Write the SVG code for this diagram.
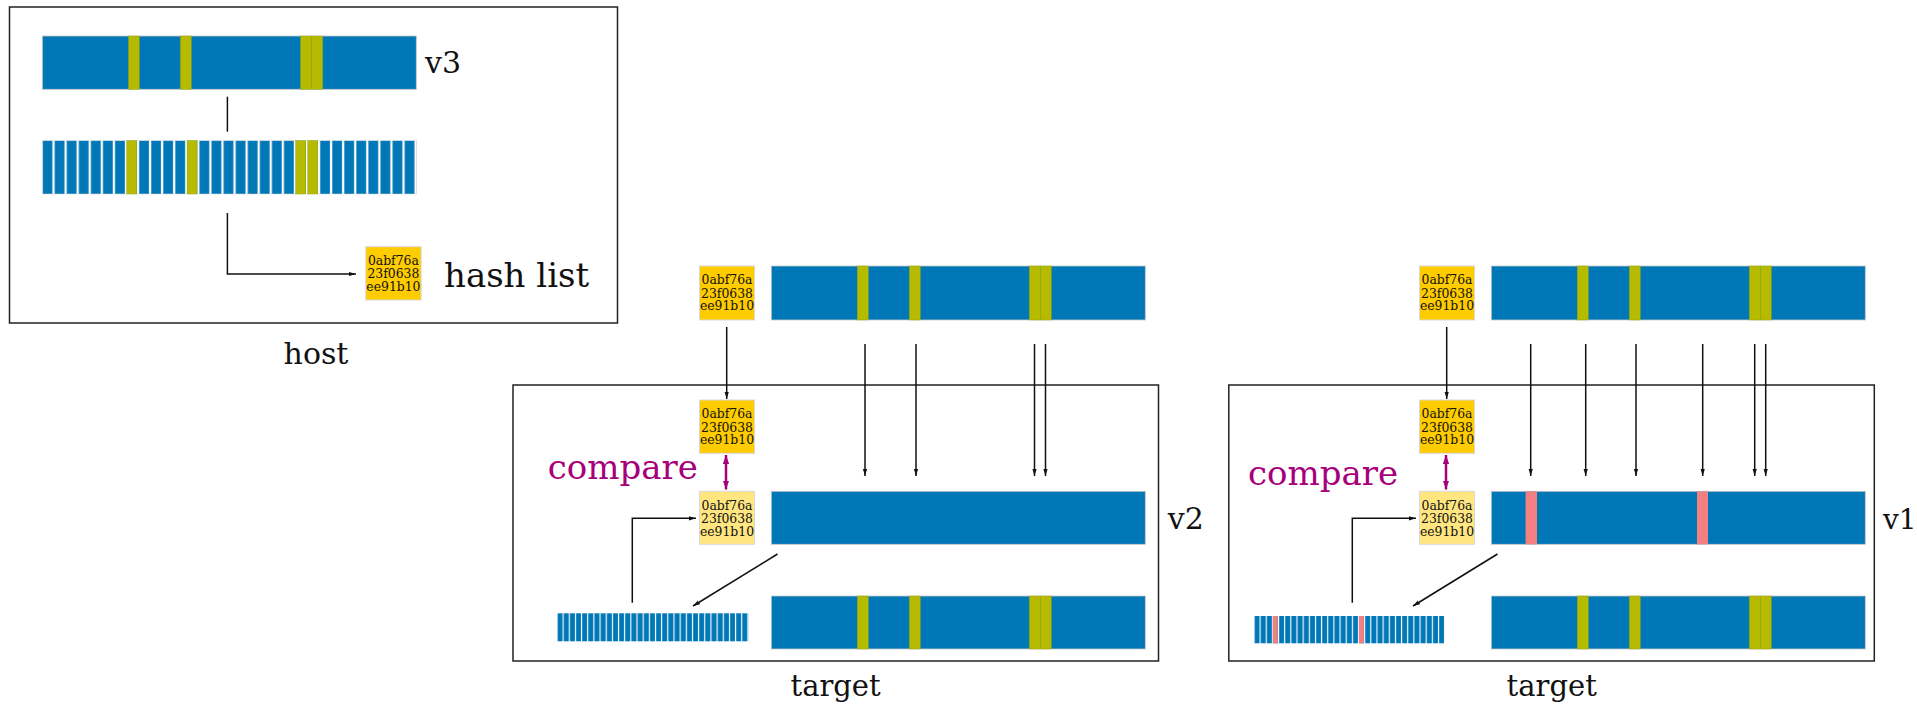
<svg xmlns="http://www.w3.org/2000/svg" width="1917" height="705" viewBox="0 0 1917 705">
<style>
.frame{fill:none;stroke:#222;stroke-width:1.5}
.bar{fill:#0077B6;stroke:#c8c8c8;stroke-width:0.8}
.yel{fill:#B6BA00;stroke:#9aa800;stroke-width:0.4}
.red{fill:#F38080}
.hash{fill:#FFCC00;stroke:#d8d8d8;stroke-width:1}
.hashp{fill:#FFE680;stroke:#d8d8d8;stroke-width:1}
.ht{font-family:"DejaVu Serif","Liberation Serif",serif;font-size:12.4px;fill:#111;text-anchor:middle}
.lbl{font-family:"DejaVu Serif","Liberation Serif",serif;fill:#111}
.cmp{font-family:"DejaVu Serif","Liberation Serif",serif;font-size:34px;fill:#A6007A}
.ln{fill:none;stroke:#111;stroke-width:1.5}
.ar{fill:none;stroke:#111;stroke-width:1.5;marker-end:url(#ah)}
.mg{fill:none;stroke:#A6007A;stroke-width:2.5;marker-start:url(#mh);marker-end:url(#mh)}
</style>
<defs>
<marker id="ah" viewBox="0 0 10 10" refX="10" refY="5" markerWidth="7" markerHeight="7" orient="auto" markerUnits="userSpaceOnUse"><path d="M0,2 L10,5 L0,8 z" fill="#111"/></marker>
<marker id="mh" viewBox="0 0 10 10" refX="10" refY="5" markerWidth="9" markerHeight="9" orient="auto-start-reverse" markerUnits="userSpaceOnUse"><path d="M0,1.5 L10,5 L0,8.5 z" fill="#A6007A"/></marker>
<pattern id="pBig" x="42.3" y="0" width="12.068" height="100" patternUnits="userSpaceOnUse"><rect x="0.3" y="0" width="9.8" height="100" fill="#0077B6"/></pattern>
<pattern id="pS1" x="557.3" y="0" width="6.161" height="100" patternUnits="userSpaceOnUse"><rect x="0.2" y="0" width="5" height="100" fill="#0077B6"/></pattern>
<pattern id="pS2" x="1254.3" y="0" width="6.152" height="100" patternUnits="userSpaceOnUse"><rect x="0.2" y="0" width="5" height="100" fill="#0077B6"/></pattern>
</defs>

<g id="host">
<rect class="frame" x="9.5" y="7" width="608" height="316"/>
<g id="host-v3-file">
<rect class="bar" x="42.3" y="36" width="374" height="53.3"/>
<rect class="yel" x="128.5" y="36" width="10.8" height="53.3"/>
<rect class="yel" x="180.3" y="36" width="11" height="53.3"/>
<rect class="yel" x="300.5" y="36" width="11.1" height="53.3"/>
<rect class="yel" x="311.6" y="36" width="11.1" height="53.3"/>
</g>
<g id="host-chunks">
<rect x="42.3" y="140.7" width="374.1" height="53.3" fill="url(#pBig)" stroke="#d8d8d8" stroke-width="0.5"/>
<rect class="yel" x="126.8" y="140.7" width="10" height="53.3"/>
<rect class="yel" x="187.1" y="140.7" width="10" height="53.3"/>
<rect class="yel" x="295.8" y="140.7" width="10" height="53.3"/>
<rect class="yel" x="307.8" y="140.7" width="10" height="53.3"/>
</g>
<g id="host-hash">
<rect class="hash" x="365.8" y="246.7" width="55.3" height="53.3"/>
<text class="ht" x="393.4" y="265"><tspan x="393.4">0abf76a</tspan><tspan x="393.4" dy="13.2">23f0638</tspan><tspan x="393.4" dy="12.6">ee91b10</tspan></text>
</g>
<text class="lbl" x="425" y="73" font-size="30">v3</text>
<text class="lbl" x="444" y="287" font-size="34">hash list</text>
<text class="lbl" x="316" y="364" font-size="30" text-anchor="middle">host</text>
</g>

<g id="panel-v2">
<rect class="frame" x="513" y="385" width="645.5" height="276"/>
<g id="p1-src-hash">
<rect class="hash" x="699.5" y="266" width="55" height="54"/>
<text class="ht" x="727" y="284.3"><tspan x="727">0abf76a</tspan><tspan x="727" dy="13.4">23f0638</tspan><tspan x="727" dy="12.6">ee91b10</tspan></text>
</g>
<g id="p1-src-file">
<rect class="bar" x="771.3" y="266" width="374" height="54"/>
<rect class="yel" x="857.3" y="266" width="11" height="54"/>
<rect class="yel" x="909.3" y="266" width="11" height="54"/>
<rect class="yel" x="1029.3" y="266" width="11" height="54"/>
<rect class="yel" x="1040.3" y="266" width="11" height="54"/>
</g>
<g id="p1-recv-hash">
<rect class="hash" x="699.5" y="400" width="55" height="53.3"/>
<text class="ht" x="727" y="418.3"><tspan x="727">0abf76a</tspan><tspan x="727" dy="13.4">23f0638</tspan><tspan x="727" dy="12.6">ee91b10</tspan></text>
</g>
<g id="p1-local-hash">
<rect class="hashp" x="699.5" y="491.3" width="55" height="53"/>
<text class="ht" x="727" y="509.6"><tspan x="727">0abf76a</tspan><tspan x="727" dy="13.4">23f0638</tspan><tspan x="727" dy="12.6">ee91b10</tspan></text>
</g>
<g id="p1-old-file">
<rect class="bar" x="771.3" y="491.3" width="374" height="53"/>
</g>
<g id="p1-chunks">
<rect x="557.3" y="613.3" width="191" height="28" fill="url(#pS1)"/>
</g>
<g id="p1-new-file">
<rect class="bar" x="771.3" y="596" width="374" height="53"/>
<rect class="yel" x="857.3" y="596" width="11" height="53"/>
<rect class="yel" x="909.3" y="596" width="11" height="53"/>
<rect class="yel" x="1029.3" y="596" width="11" height="53"/>
<rect class="yel" x="1040.3" y="596" width="11" height="53"/>
</g>
<text class="cmp" x="547.7" y="479">compare</text>
<text class="lbl" x="1167.7" y="529" font-size="30">v2</text>
<text class="lbl" x="835.6" y="696" font-size="29" text-anchor="middle">target</text>
</g>

<g id="panel-v1">
<rect class="frame" x="1228.8" y="385" width="645.5" height="276"/>
<g id="p2-src-hash">
<rect class="hash" x="1419.5" y="266" width="55" height="54"/>
<text class="ht" x="1447" y="284.3"><tspan x="1447">0abf76a</tspan><tspan x="1447" dy="13.4">23f0638</tspan><tspan x="1447" dy="12.6">ee91b10</tspan></text>
</g>
<g id="p2-src-file">
<rect class="bar" x="1491.3" y="266" width="374" height="54"/>
<rect class="yel" x="1577.3" y="266" width="11" height="54"/>
<rect class="yel" x="1629.3" y="266" width="11" height="54"/>
<rect class="yel" x="1749.3" y="266" width="11" height="54"/>
<rect class="yel" x="1760.3" y="266" width="11" height="54"/>
</g>
<g id="p2-recv-hash">
<rect class="hash" x="1419.5" y="400" width="55" height="53.3"/>
<text class="ht" x="1447" y="418.3"><tspan x="1447">0abf76a</tspan><tspan x="1447" dy="13.4">23f0638</tspan><tspan x="1447" dy="12.6">ee91b10</tspan></text>
</g>
<g id="p2-local-hash">
<rect class="hashp" x="1419.5" y="491.3" width="55" height="53"/>
<text class="ht" x="1447" y="509.6"><tspan x="1447">0abf76a</tspan><tspan x="1447" dy="13.4">23f0638</tspan><tspan x="1447" dy="12.6">ee91b10</tspan></text>
</g>
<g id="p2-old-file">
<rect class="bar" x="1491.3" y="491.3" width="374" height="53"/>
<rect class="red" x="1525.6" y="491.3" width="11.4" height="53"/>
<rect class="red" x="1697" y="491.3" width="11" height="53"/>
</g>
<g id="p2-chunks">
<rect x="1254.3" y="616" width="190.7" height="27.3" fill="url(#pS2)"/>
<rect class="red" x="1272.8" y="616" width="5" height="27.3"/>
<rect class="red" x="1358.9" y="616" width="5" height="27.3"/>
</g>
<g id="p2-new-file">
<rect class="bar" x="1491.3" y="596" width="374" height="53"/>
<rect class="yel" x="1577.3" y="596" width="11" height="53"/>
<rect class="yel" x="1629.3" y="596" width="11" height="53"/>
<rect class="yel" x="1749.3" y="596" width="11" height="53"/>
<rect class="yel" x="1760.3" y="596" width="11" height="53"/>
</g>
<text class="cmp" x="1248" y="485">compare</text>
<text class="lbl" x="1883" y="529" font-size="28">v1</text>
<text class="lbl" x="1551.7" y="696" font-size="29" text-anchor="middle">target</text>
</g>

<g id="connectors">
<path class="ln" d="M227.4,96.7 V131.7"/>
<path class="ar" d="M227.4,213 V274 H356"/>
<path class="ar" d="M726.7,327 V399"/>
<path class="ar" d="M865,344 V476"/>
<path class="ar" d="M916,344 V476"/>
<path class="ar" d="M1034.5,344 V476"/>
<path class="ar" d="M1045.5,344 V476"/>
<path class="mg" d="M726,455 V489.5"/>
<path class="ar" d="M777.5,554 L693,606"/>
<path class="ar" d="M632.3,602.7 V518.3 H696"/>
<path class="ar" d="M1446.7,327 V399"/>
<path class="ar" d="M1530.7,344 V476"/>
<path class="ar" d="M1585.7,344 V476"/>
<path class="ar" d="M1636,344 V476"/>
<path class="ar" d="M1702.7,344 V476"/>
<path class="ar" d="M1754.7,344 V476"/>
<path class="ar" d="M1765.7,344 V476"/>
<path class="mg" d="M1446,455 V489.5"/>
<path class="ar" d="M1497.5,554 L1413,606"/>
<path class="ar" d="M1352.3,602.7 V518.3 H1416"/>
</g>
</svg>
